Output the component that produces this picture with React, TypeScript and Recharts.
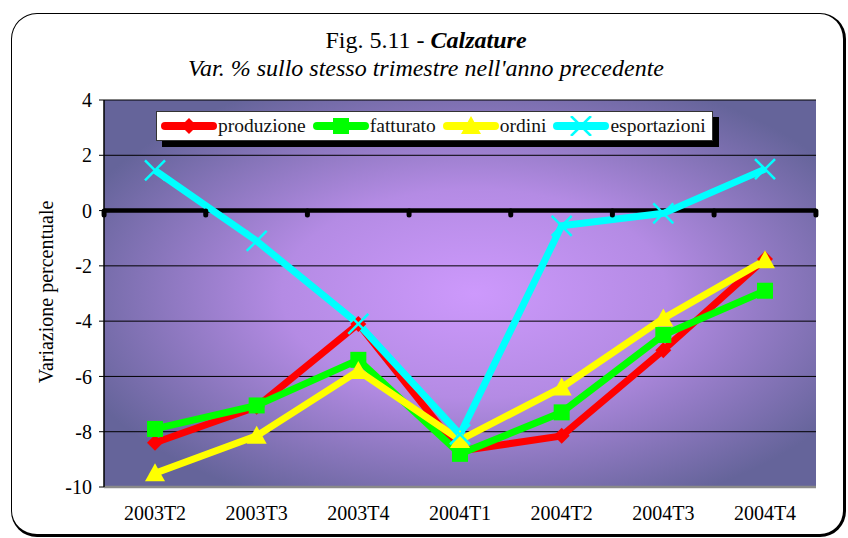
import React from "react";
import {
  CartesianGrid,
  Line,
  LineChart,
  ReferenceDot,
  ReferenceLine,
  XAxis,
  YAxis
} from "recharts";

const categories = ["2003T2", "2003T3", "2003T4", "2004T1", "2004T2", "2004T3", "2004T4"];
const produzione = [-8.4, -7.1, -4.1, -8.7, -8.15, -5.05, -1.75];
const fatturato = [-7.9, -7.05, -5.4, -8.8, -7.3, -4.5, -2.9];
const ordini = [-9.5, -8.15, -5.8, -8.3, -6.4, -3.9, -1.8];
const esportazioni = [1.45, -1.1, -4.1, -8.1, -0.55, -0.1, 1.5];
const yTicks = [-10, -8, -6, -4, -2, 0, 2, 4];

const data = categories.map((c, i) => ({
  cat: c,
  produzione: produzione[i],
  fatturato: fatturato[i],
  ordini: ordini[i],
  esportazioni: esportazioni[i]
}));

const FONT = "'Liberation Serif', 'DejaVu Serif', serif";
// half of one category slot, in px (plot is 713px wide for 7 slots)
const HALF = 713 / 14;

type MarkerKind = "diamond" | "square" | "triangle" | "cross";

function Marker({ kind, cx, cy, color }: { kind: MarkerKind; cx: number; cy: number; color: string }) {
  if (kind === "diamond") {
    return <polygon points={`${cx},${cy - 8} ${cx + 8},${cy} ${cx},${cy + 8} ${cx - 8},${cy}`} fill={color} />;
  }
  if (kind === "square") {
    return <rect x={cx - 8} y={cy - 8} width={16} height={16} fill={color} />;
  }
  if (kind === "triangle") {
    return <polygon points={`${cx},${cy - 10} ${cx + 10},${cy + 8} ${cx - 10},${cy + 8}`} fill={color} />;
  }
  return (
    <g stroke={color} strokeWidth={2.5}>
      <line x1={cx - 10} y1={cy - 10} x2={cx + 10} y2={cy + 10} />
      <line x1={cx - 10} y1={cy + 10} x2={cx + 10} y2={cy - 10} />
    </g>
  );
}

const series: { key: string; color: string; marker: MarkerKind }[] = [
  { key: "produzione", color: "#ff0000", marker: "diamond" },
  { key: "fatturato", color: "#00ff00", marker: "square" },
  { key: "ordini", color: "#ffff00", marker: "triangle" },
  { key: "esportazioni", color: "#00ffff", marker: "cross" }
];

function LegendBox() {
  return (
    <div
      style={{
        position: "absolute",
        left: 156,
        top: 111,
        display: "flex",
        alignItems: "center",
        background: "#fff",
        border: "1px solid #333",
        boxShadow: "6px 6px 0 #000",
        height: 28,
        padding: "0 2px 0 4px",
        fontFamily: FONT,
        fontSize: 19.5,
        color: "#111"
      }}
    >
      {series.map((s, i) => (
        <div key={s.key} style={{ display: "flex", alignItems: "center", marginRight: i === series.length - 1 ? 4 : 7 }}>
          <svg width={56} height={20}>
            <line x1={4} y1={10} x2={52} y2={10} stroke={s.color} strokeWidth={8} strokeLinecap="round" />
            <Marker kind={s.marker} cx={28} cy={10} color={s.color} />
          </svg>
          <span style={{ marginLeft: 1 }}>{s.key}</span>
        </div>
      ))}
    </div>
  );
}

// small stubs under the zero line, at the slot boundaries around each category
const makeZeroTick = (last: boolean) => (props: any) => {
  const { cx, cy } = props;
  return (
    <g fill="#000">
      <rect x={cx - HALF - 2.5} y={cy - 2} width={5} height={9} rx={2.5} />
      {last && <rect x={cx + HALF - 2.5} y={cy - 2} width={5} height={9} rx={2.5} />}
    </g>
  );
};

export default function App() {
  return (
    <div style={{ position: "absolute", left: 0, top: 0, width: 848, height: 538, background: "#fff", overflow: "hidden" }}>
      <div
        style={{
          position: "absolute",
          left: 11,
          top: 13,
          width: 835,
          height: 524,
          border: "1.5px solid #000",
          borderRightWidth: 3,
          borderBottomWidth: 3,
          borderRadius: 26,
          boxSizing: "border-box"
        }}
      />
      <div
        style={{
          position: "absolute",
          left: 0,
          width: 852,
          top: 27,
          textAlign: "center",
          fontFamily: FONT,
          fontSize: 24,
          color: "#000"
        }}
      >
        Fig. 5.11 - <b><i>Calzature</i></b>
      </div>
      <div
        style={{
          position: "absolute",
          left: 0,
          width: 852,
          top: 55,
          textAlign: "center",
          fontFamily: FONT,
          fontStyle: "italic",
          fontSize: 24,
          color: "#000"
        }}
      >
        Var. % sullo stesso trimestre nell'anno precedente
      </div>
      <div
        style={{
          position: "absolute",
          left: 46,
          top: 292,
          transform: "translate(-50%, -50%) rotate(-90deg)",
          whiteSpace: "nowrap",
          fontFamily: FONT,
          fontSize: 20,
          color: "#000"
        }}
      >
        Variazione percentuale
      </div>
      <LineChart
        width={848}
        height={538}
        data={data}
        margin={{ top: 100, right: 32, bottom: 21, left: 44 }}
        style={{ position: "absolute", left: 0, top: 0 }}
      >
        <defs>
          <radialGradient id="plotBg" cx="0.52" cy="0.5" r="0.6">
            <stop offset="0" stopColor="#cd99fc" />
            <stop offset="0.45" stopColor="#b48be4" />
            <stop offset="1" stopColor="#65649a" />
          </radialGradient>
        </defs>
        <CartesianGrid vertical={false} stroke="#000" strokeWidth={1} fill="url(#plotBg)" fillOpacity={1} />
        <XAxis
          dataKey="cat"
          axisLine={{ stroke: "#8a8a8a", strokeWidth: 2.5 }}
          tickLine={false}
          tickSize={0}
          tickMargin={19}
          padding={{ left: 51, right: 51 }}
          tick={{ fill: "#000", fontSize: 20, fontFamily: FONT }}
          height={30}
          interval={0}
        />
        <XAxis
          xAxisId="top"
          orientation="top"
          dataKey="cat"
          height={0}
          tick={false}
          tickLine={false}
          axisLine={{ stroke: "#8a8a8a", strokeWidth: 2.5 }}
        />
        <YAxis
          domain={[-10, 4]}
          ticks={yTicks}
          width={60}
          axisLine={{ stroke: "#000", strokeWidth: 1.5 }}
          tickLine={{ stroke: "#000" }}
          tickSize={5}
          tickMargin={7}
          tick={{ fill: "#000", fontSize: 20, fontFamily: FONT }}
          interval={0}
        />
        <YAxis
          yAxisId="right"
          orientation="right"
          domain={[-10, 4]}
          width={0}
          tick={false}
          tickLine={false}
          axisLine={{ stroke: "#8a8a8a", strokeWidth: 2.5 }}
        />
        <ReferenceLine y={0} stroke="#000" strokeWidth={4.5} />
        {categories.map((c, i) => (
          <ReferenceDot key={c} x={c} y={0} shape={makeZeroTick(i === categories.length - 1)} />
        ))}
        {series.map((s) => (
          <Line
            key={s.key}
            dataKey={s.key}
            stroke={s.color}
            strokeWidth={7}
            isAnimationActive={false}
            dot={(p: any) => <Marker key={p.index} kind={s.marker} cx={p.cx} cy={p.cy} color={s.color} />}
            activeDot={false}
          />
        ))}
      </LineChart>
      <LegendBox />
    </div>
  );
}
